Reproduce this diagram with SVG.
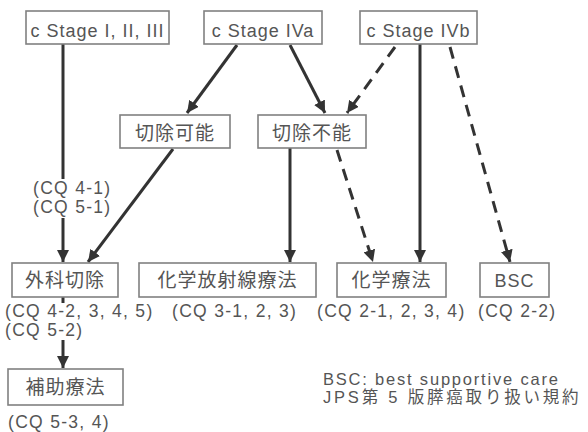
<svg xmlns="http://www.w3.org/2000/svg" width="588" height="432" viewBox="0 0 588 432">
<style>
.box{fill:#fff;stroke:#808080;stroke-width:1.6}
.t{font-family:"Liberation Sans","Noto Sans CJK JP",sans-serif;font-size:18px;fill:#555;letter-spacing:1px}
.j{font-family:"Liberation Sans","Noto Sans CJK JP",sans-serif;font-size:19px;fill:#555;letter-spacing:1px}
.cq{font-family:"Liberation Sans","Noto Sans CJK JP",sans-serif;font-size:17.5px;fill:#555;letter-spacing:1.3px}
.lg{font-family:"Liberation Sans","Noto Sans CJK JP",sans-serif;font-size:16.5px;fill:#555}
.c{fill:none;stroke:#333;stroke-width:3}
.d{stroke-dasharray:12 8}
</style>
<defs>
<marker id="ah" markerUnits="userSpaceOnUse" markerWidth="14" markerHeight="12" refX="12" refY="6" orient="auto">
<path d="M0,0 L12,6 L0,12 z" fill="#333"/>
</marker>
</defs>
<rect width="588" height="432" fill="#fff"/>
<g id="connectors">
<line class="c" x1="63" y1="44" x2="63" y2="179"/>
<line class="c" x1="63" y1="218" x2="63" y2="262" marker-end="url(#ah)"/>
<line class="c" x1="237" y1="45" x2="187" y2="113" marker-end="url(#ah)"/>
<line class="c" x1="290" y1="45" x2="325" y2="113" marker-end="url(#ah)"/>
<line class="c d" x1="395" y1="47" x2="347" y2="113" marker-end="url(#ah)"/>
<line class="c" x1="420" y1="44" x2="420" y2="262" marker-end="url(#ah)"/>
<line class="c d" x1="450" y1="47" x2="510" y2="262" marker-end="url(#ah)"/>
<line class="c" x1="173" y1="149" x2="88" y2="262" marker-end="url(#ah)"/>
<line class="c" x1="290" y1="148" x2="290" y2="262" marker-end="url(#ah)"/>
<line class="c d" x1="337" y1="150" x2="373" y2="262" marker-end="url(#ah)"/>
<line class="c" x1="63" y1="297" x2="63" y2="303"/>
<line class="c" x1="63" y1="340" x2="63" y2="368" marker-end="url(#ah)"/>
</g>
<g id="stage123"><rect class="box" x="26" y="11" width="143" height="33"/><text class="t" x="97.5" y="37" text-anchor="middle">c Stage I, II, III</text></g>
<g id="stage4a"><rect class="box" x="204" y="11" width="118" height="33"/><text class="t" x="263" y="37" text-anchor="middle">c Stage IVa</text></g>
<g id="stage4b"><rect class="box" x="360" y="11" width="117" height="33"/><text class="t" x="418.5" y="37" text-anchor="middle">c Stage IVb</text></g>
<g id="resectable"><rect class="box" x="120" y="115" width="110" height="33"/><text class="j" x="175" y="140" text-anchor="middle">切除可能</text></g>
<g id="unresectable"><rect class="box" x="258" y="115" width="108" height="33"/><text class="j" x="312" y="140" text-anchor="middle">切除不能</text></g>
<g id="surgery"><rect class="box" x="12" y="263" width="106" height="34"/><text class="j" x="65" y="287" text-anchor="middle">外科切除</text></g>
<g id="chemoradiation"><rect class="box" x="139" y="263" width="177" height="34"/><text class="j" x="227.5" y="287" text-anchor="middle">化学放射線療法</text></g>
<g id="chemotherapy"><rect class="box" x="337" y="263" width="109" height="34"/><text class="j" x="391.5" y="287" text-anchor="middle">化学療法</text></g>
<g id="bsc"><rect class="box" x="480" y="263" width="69" height="34"/><text class="t" x="514.5" y="287" text-anchor="middle">BSC</text></g>
<g id="adjuvant"><rect class="box" x="8" y="369" width="115" height="36"/><text class="j" x="65.5" y="394" text-anchor="middle">補助療法</text></g>
<g id="labels">
<text class="cq" x="33" y="194">(CQ 4-1)</text>
<text class="cq" x="33" y="213">(CQ 5-1)</text>
<text class="cq" x="5" y="317">(CQ 4-2, 3, 4, 5)</text>
<text class="cq" x="5" y="336">(CQ 5-2)</text>
<text class="cq" x="172" y="317">(CQ 3-1, 2, 3)</text>
<text class="cq" x="317" y="317">(CQ 2-1, 2, 3, 4)</text>
<text class="cq" x="478" y="317">(CQ 2-2)</text>
<text class="cq" x="8" y="428">(CQ 5-3, 4)</text>
<text class="lg" x="323" y="385" letter-spacing="1.8">BSC: best supportive care</text>
<text class="lg" x="323" y="403" font-size="17" letter-spacing="2.8">JPS第 5 版膵癌取り扱い規約</text>
</g>
</svg>
